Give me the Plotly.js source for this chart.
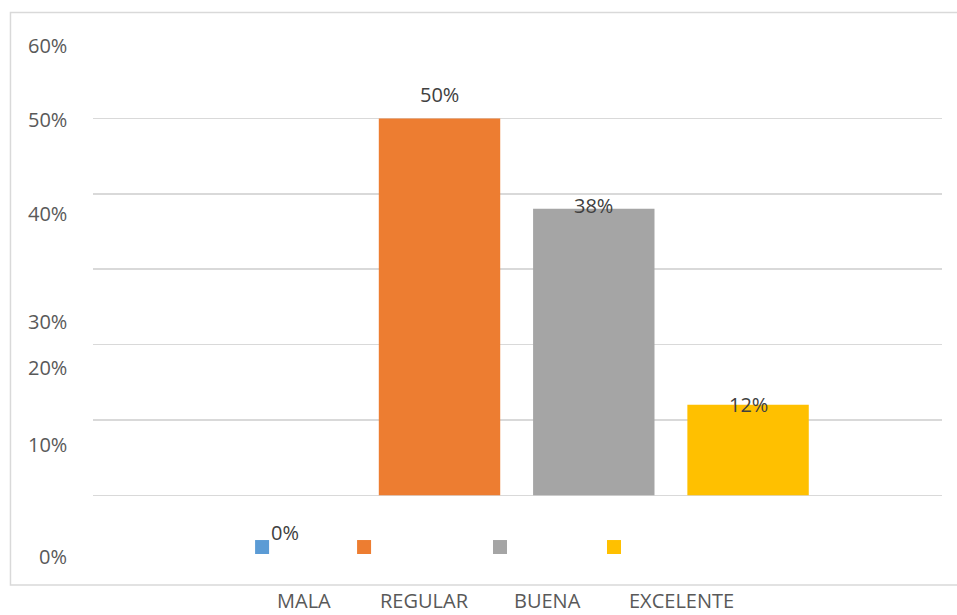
<!DOCTYPE html>
<html>
<head>
<meta charset="utf-8">
<script src="https://cdn.plot.ly/plotly-3.0.1.min.js"></script>
<style>
  html, body { margin: 0; padding: 0; background: #ffffff; }
  #chart { width: 957px; height: 615px; }
</style>
</head>
<body>
<div id="chart"></div>
<script>
// ---- data ----
const categories = ['MALA', 'REGULAR', 'BUENA', 'EXCELENTE'];
const values = [0, 50, 38, 12];
const valueLabels = ['0%', '50%', '38%', '12%'];
const gridValues = [0, 10, 20, 30, 40, 50, 60];
const yTickLabels = ['60%', '50%', '40%', '30%', '20%', '10%', '0%'];

// ---- styling / placement (as drawn in the reference) ----
const colors = ['#5B9BD5', '#ED7D31', '#A5A5A5', '#FFC000'];
const yTickPos = [59.7, 49.8, 37.45, 23.0, 16.9, 6.8, -8.1];
const xLabelPos = [0.12, 0.90, 1.70, 2.57];
const labelShift = [-37, 24, 3, 0];
const legendX = [-0.15, 0.511, 1.392, 2.131];
const legendY = -6.86;

const idx = categories.map((c, i) => i);

const bars = {
  type: 'bar',
  x: idx,
  y: values,
  width: 0.787,
  marker: { color: colors },
  hoverinfo: 'skip',
  showlegend: false
};

const legendMarks = {
  type: 'scatter',
  mode: 'markers',
  x: legendX,
  y: categories.map(() => legendY),
  marker: { symbol: 'square', size: 14, color: colors, line: { width: 0 } },
  hoverinfo: 'skip',
  showlegend: false,
  cliponaxis: false
};

const annotations = [];
values.forEach((v, i) => {
  annotations.push({
    x: idx[i], y: v, xref: 'x', yref: 'y',
    text: valueLabels[i], showarrow: false,
    yshift: labelShift[i], yanchor: 'middle',
    font: { family: 'Open Sans, sans-serif', size: 20, color: '#404040' }
  });
});
yTickLabels.forEach((t, i) => {
  annotations.push({
    x: -0.0283, xref: 'paper', y: yTickPos[i], yref: 'y',
    text: t, showarrow: false, xanchor: 'right', yanchor: 'middle',
    font: { family: 'Open Sans, sans-serif', size: 20, color: '#595959' }
  });
});
categories.forEach((c, i) => {
  annotations.push({
    x: xLabelPos[i], xref: 'x', y: -0.0201, yref: 'paper',
    text: c, showarrow: false, xanchor: 'center', yanchor: 'middle',
    font: { family: 'Open Sans, sans-serif', size: 20, color: '#595959' }
  });
});

const layout = {
  width: 957,
  height: 615,
  margin: { l: 93, r: 15, t: 43, b: 25 },
  paper_bgcolor: '#ffffff',
  plot_bgcolor: '#ffffff',
  showlegend: false,
  xaxis: {
    type: 'linear',
    range: [-1.246, 4.257],
    showgrid: false,
    zeroline: false,
    showline: false,
    showticklabels: false,
    ticks: '',
    fixedrange: true
  },
  yaxis: {
    range: [-12.56, 60],
    tickmode: 'array',
    tickvals: gridValues,
    showticklabels: false,
    showgrid: true,
    gridcolor: '#D9D9D9',
    gridwidth: 1.5,
    zeroline: false,
    showline: false,
    ticks: '',
    fixedrange: true
  },
  shapes: [{
    type: 'rect', xref: 'paper', yref: 'paper',
    x0: -0.0972, x1: 1.03, y0: 0.0091, y1: 1.0558,
    line: { color: '#D9D9D9', width: 1.5 },
    fillcolor: 'rgba(0,0,0,0)',
    layer: 'below'
  }],
  annotations: annotations
};

Plotly.newPlot('chart', [bars, legendMarks], layout, { displayModeBar: false, staticPlot: true });
</script>
</body>
</html>
